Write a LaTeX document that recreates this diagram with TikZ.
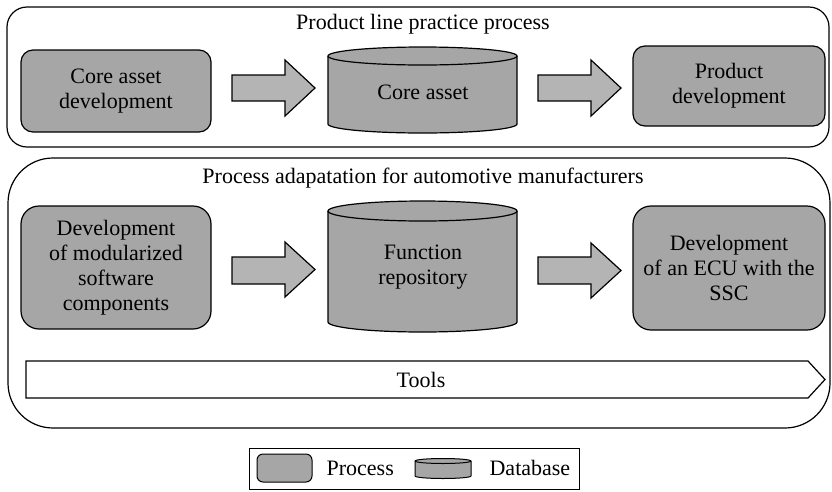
\documentclass[tikz,border=0pt]{standalone}
\usepackage{fontspec}
\setmainfont{Liberation Serif}
\definecolor{boxgray}{HTML}{A6A6A6}
\definecolor{arrowgray}{HTML}{B4B4B4}
\tikzset{
  proc/.style={draw, fill=boxgray, rounded corners=#1, align=center, inner sep=0pt},
  proc/.default=14,
  blockarrow/.style={draw, fill=arrowgray, line join=miter},
  cylfill/.style={draw, fill=boxgray},
  frame/.style={draw},
  lbl/.style={align=center, inner sep=0pt},
}
% cylinder: x1, x2, top-ellipse centre y, side bottom y, ry
\newcommand{\dbcyl}[5]{%
  \pgfmathsetmacro{\rx}{(#2-#1)/2}%
  \path[cylfill] (#1,#3) -- (#1,#4) arc[start angle=180,end angle=0,x radius=\rx,y radius=#5]
     -- (#2,#3) arc[start angle=0,end angle=-180,x radius=\rx,y radius=#5] -- cycle;
  \draw (#1,#3) arc[start angle=180,end angle=0,x radius=\rx,y radius=#5];}
% block arrow: x start, head x, tip x, shaft top, shaft bottom, head top, head bottom
\newcommand{\blockarr}[7]{%
  \path[blockarrow] (#1,#4) -- (#2,#4) -- (#2,#6) -- (#3,{(#6+#7)/2}) -- (#2,#7) -- (#2,#5) -- (#1,#5) -- cycle;}
\begin{document}
\begin{tikzpicture}[x=1pt,y=-1pt, line width=1.2pt, font=\fontsize{22}{25}\selectfont]
\useasboundingbox (0,0) rectangle (832,491);

% ---------- top panel ----------
\draw[frame, rounded corners=20] (7,7) rectangle (829,147);
\node[lbl] (t1) at (423,24) {Product line practice process};

\node[proc=12, minimum width=190, minimum height=82] (cad) at (116,91) {Core asset\\development};
\blockarr{232}{285}{315}{75}{101}{60}{116}
\dbcyl{328}{517}{56}{124}{9}
\node[lbl] (ca) at (423,92) {Core asset};
\blockarr{538}{591}{621}{75}{101}{60}{116}
\node[proc=12, minimum width=192, minimum height=80] (pd) at (729,86) {Product\\development};

% ---------- bottom panel ----------
\draw[frame, rounded corners=45] (8,158) rectangle (830,428);
\node[lbl] (t2) at (423,178) {Process adapatation for automotive manufacturers};

\node[proc=18, minimum width=190, minimum height=123] (dmsc) at (116,267.5) {Development\\of modularized\\software\\components};
\blockarr{232}{285}{315}{257}{284}{242}{297}
\dbcyl{328}{517}{211}{322}{10}
\node[lbl] (fr) at (423,267) {Function\\repository};
\blockarr{538}{591}{621}{257}{284}{243}{298}
\node[proc=18, minimum width=192, minimum height=124] (ecu) at (729,268) {Development\\of an ECU with the\\SSC};

\path[draw, fill=white, line join=miter] (26,361) -- (808,361) -- (825,379.5) -- (808,398) -- (26,398) -- cycle;
\node[lbl] (tools) at (421,380) {Tools};

% ---------- legend ----------
\draw[line width=0.9pt] (249,448) rectangle (579,489.5);
\node[proc=6, minimum width=55, minimum height=28, line width=1pt] (lp) at (284.5,468) {};
\node[lbl, anchor=west] (lpt) at (326,468) {Process};
\begin{scope}[line width=1pt]
\dbcyl{415}{471}{461}{476}{2.5}
\end{scope}
\node[lbl, anchor=west] (ldt) at (489,468) {Database};
\end{tikzpicture}
\end{document}
